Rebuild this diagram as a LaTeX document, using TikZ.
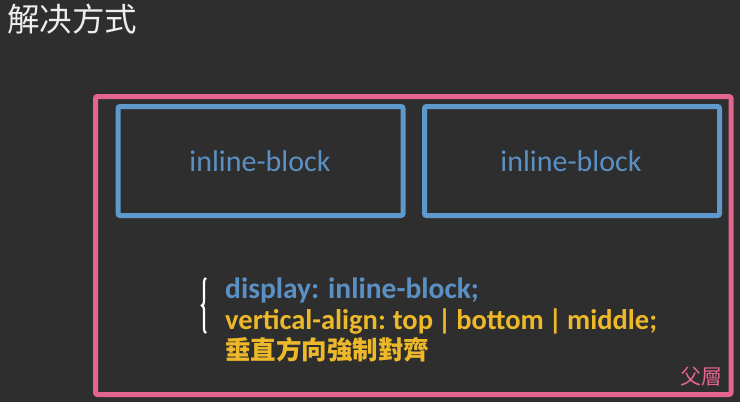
\documentclass[tikz,border=0pt]{standalone}
\usepackage{fontspec}
\setmainfont{Carlito}
\newfontfamily\cjk{Noto Sans CJK TC}
\usetikzlibrary{decorations.pathreplacing}
\definecolor{bgdark}{HTML}{2E2E2E}
\definecolor{parentpink}{HTML}{E3648C}
\definecolor{childblue}{HTML}{5F98CC}
\definecolor{codeblue}{HTML}{5B90C4}
\definecolor{codeyellow}{HTML}{EDB92A}
\definecolor{titlewhite}{HTML}{EEEEEE}
\tikzset{
    x=1pt, y=-1pt, % one unit is one pixel of the reference, y grows downwards
    parentbox/.style={draw=parentpink, line width=5pt, rounded corners=2pt}, % the outer parent box
    childbox/.style={draw=childblue, line width=5pt, rounded corners=2pt}, % the two inline blocks
    blocktext/.style={text=codeblue, font=\fontsize{30}{32}\selectfont},
    codeline/.style={anchor=base west, inner sep=0pt, font=\bfseries\fontsize{28.5}{30}\selectfont},
    codebrace/.style={draw=white, line width=2.2pt, decorate, decoration={brace, amplitude=4pt}},
}
\begin{document}
\begin{tikzpicture}
    \fill[bgdark] (0,0) rectangle (740,402);
    \useasboundingbox (0,0) rectangle (740,402);
    \node[text=titlewhite, font=\cjk\fontsize{32.5}{34}\selectfont] (title) at (72.5,19) {解决方式};
    \draw[parentbox] (95.5,96.5) rectangle (731,394.5);
    \draw[childbox] (118,106.5) rectangle (403,215.5);
    \draw[childbox] (424.5,106.5) rectangle (719.5,215.5);
    \node[blocktext] (blockA) at (260,161) {inline-block};
    \node[blocktext] (blockB) at (571,161) {inline-block};
    \coordinate (bracetop) at (206,278);
    \coordinate (bracebot) at (206,333);
    \draw[codebrace] (bracebot) -- (bracetop);
    \node[codeline, text=codeblue, font=\bfseries\fontsize{29.5}{30}\selectfont] (display) at (225,298) {display: inline-block;};
    \node[codeline, text=codeyellow] (valign) at (225,329) {\spaceskip=.17em vertical-align: top | bottom | middle;};
    \node[codeline, text=codeyellow, font=\cjk\bfseries\fontsize{25.5}{28}\selectfont] (note) at (225,359) {垂直方向強制對齊};
    \node[text=parentpink, font=\cjk\fontsize{21}{23}\selectfont] (parentlabel) at (701,377) {父層};
\end{tikzpicture}
\end{document}
